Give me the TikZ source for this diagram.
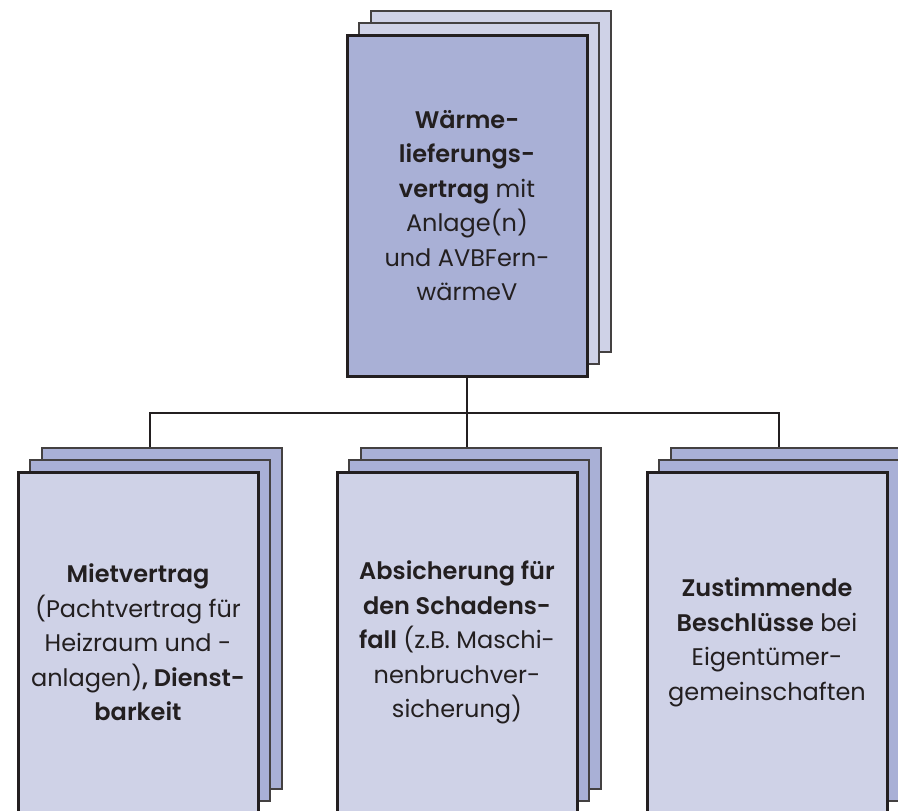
\documentclass[tikz,border=0pt]{standalone}
\usepackage{fontspec}
\setmainfont{Poppins}[BoldFont={Poppins SemiBold}]
\usetikzlibrary{positioning}
\definecolor{blaudunkel}{HTML}{A9B0D6}
\definecolor{blauhell}{HTML}{CFD2E7}
\definecolor{linie}{HTML}{231F20}
\tikzset{
  vorne/.style={draw=linie, line width=3pt, minimum width=240pt, minimum height=341pt,
    inner sep=0pt, align=center, text=linie, font=\fontsize{24}{34.5}\selectfont},
  hinten/.style={draw=linie!85, line width=1.3pt, minimum width=240pt, minimum height=341pt, inner sep=0pt},
  verbinder/.style={draw=linie, line width=2.8pt}
}

\begin{document}
\begin{tikzpicture}[x=1pt, y=-1pt]
\useasboundingbox (0,0) rectangle (898,811);
\clip (0,0) rectangle (898,811);
\fill[white] (0,0) rectangle (898,811);

% Waermelieferungsvertrag
\node[hinten, fill=blauhell] (wlv_b) at (491,181.5) {};
\node[hinten, fill=blauhell] (wlv_m) at (479,193.5) {};
\node[vorne, fill=blaudunkel] (wlv) at (467,205.5)
  {\textbf{Wärme-}\\\textbf{lieferungs-}\\\textbf{vertrag} mit\\Anlage(n)\\und AVBFern-\\wärmeV};

% Mietvertrag
\node[hinten, fill=blaudunkel] (miet_b) at (162,618.5) {};
\node[hinten, fill=blaudunkel] (miet_m) at (150,630.5) {};
\node[vorne, fill=blauhell] (miet) at (138,642.5)
  {\textbf{Mietvertrag}\\(Pachtvertrag für\\Heizraum und -\\anlagen)\textbf{, Dienst-}\\\textbf{barkeit}};

% Absicherung
\node[hinten, fill=blaudunkel] (absi_b) at (481,618.5) {};
\node[hinten, fill=blaudunkel] (absi_m) at (469,630.5) {};
\node[vorne, fill=blauhell] (absi) at (457,642.5)
  {\textbf{Absicherung für}\\\textbf{den Schadens-}\\\textbf{fall} (z.B. Maschi-\\nenbruchver-\\sicherung)};

% Beschluesse
\node[hinten, fill=blaudunkel] (zust_b) at (791,618.5) {};
\node[hinten, fill=blaudunkel] (zust_m) at (779,630.5) {};
\node[vorne, fill=blauhell] (zust) at (767,642.5)
  {\textbf{Zustimmende}\\\textbf{Beschlüsse} bei\\Eigentümer-\\gemeinschaften};

% Verbindungen
\coordinate (bus) at (0,413);
\draw[verbinder] (wlv.south) -- (absi_b.north -| wlv.south);
\draw[verbinder] (miet_b.north -| miet_m.center) |- (bus -| zust_m.center) -- (zust_b.north -| zust_m.center);
\end{tikzpicture}
\end{document}
